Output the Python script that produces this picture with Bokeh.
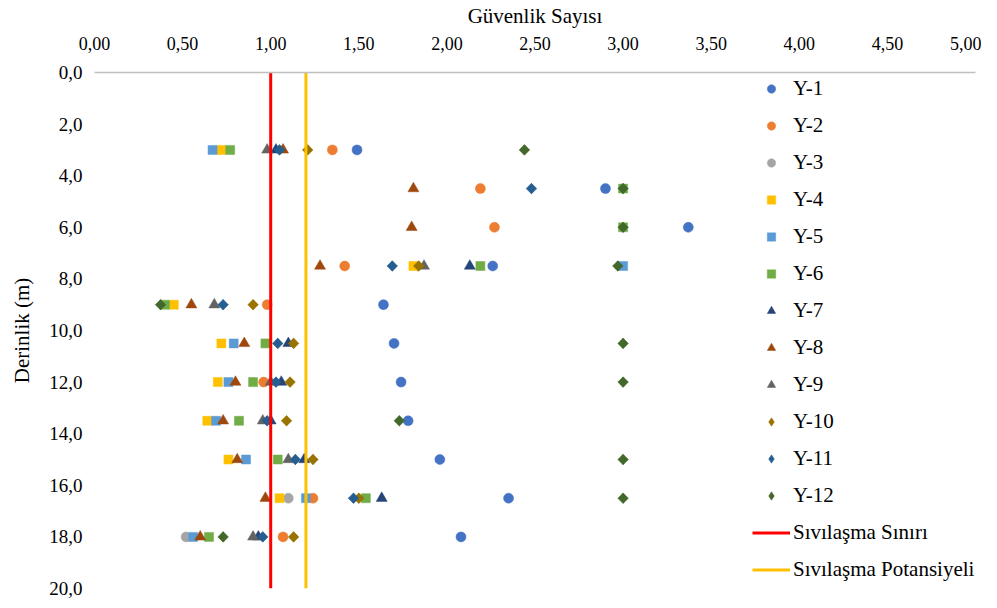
from bokeh.plotting import figure
from bokeh.models import Range1d, LinearAxis, FixedTicker, CustomJSTickFormatter, Legend, LegendItem, ColumnDataSource
from bokeh.embed import file_html
from bokeh.resources import INLINE
import math

NaN = float("nan")

depths = [3.0, 4.5, 6.0, 7.5, 9.0, 10.5, 12.0, 13.5, 15.0, 16.5, 18.0]

y1 = [1.49, 2.90, 3.37, 2.26, 1.64, 1.70, 1.74, 1.78, 1.96, 2.35, 2.08]
y2 = [1.35, 2.19, 2.27, 1.42, 0.98, NaN, 0.96, NaN, NaN, 1.24, 1.07]
y3 = [NaN, NaN, NaN, NaN, NaN, NaN, NaN, NaN, NaN, 1.10, 0.52]
y4 = [0.72, NaN, NaN, 1.81, 0.45, 0.72, 0.70, 0.64, 0.76, 1.05, NaN]
y5 = [0.67, NaN, NaN, 3.00, NaN, 0.79, 0.76, 0.69, 0.86, 1.20, 0.56]
y6 = [0.77, 3.00, 3.00, 2.19, 0.40, 0.97, 0.90, 0.82, 1.04, 1.54, 0.65]
y7 = [1.03, NaN, NaN, 2.13, NaN, 1.10, 1.06, 1.00, 1.19, 1.63, 0.93]
y8 = [1.07, 1.81, 1.80, 1.28, 0.55, 0.85, 0.80, 0.73, 0.81, 0.97, 0.60]
y9 = [0.98, NaN, NaN, 1.87, 0.68, NaN, 1.00, 0.955, 1.10, NaN, 0.90]
y10 = [1.21, NaN, NaN, 1.84, 0.90, 1.13, 1.11, 1.09, 1.24, 1.50, 1.13]
y11 = [1.05, 2.48, NaN, 1.69, 0.73, 1.04, 1.03, 0.98, 1.14, 1.47, 0.955]
y12 = [2.44, 3.00, 3.00, 2.97, 0.375, 3.00, 3.00, 1.73, 3.00, 3.00, 0.73]

series_names = ["Y-1", "Y-2", "Y-3", "Y-4", "Y-5", "Y-6", "Y-7", "Y-8", "Y-9", "Y-10", "Y-11", "Y-12"]
series_values = [y1, y2, y3, y4, y5, y6, y7, y8, y9, y10, y11, y12]
series_colors = ["#4472C4", "#ED7D31", "#A5A5A5", "#FFC000", "#5B9BD5", "#70AD47",
                 "#264478", "#9E480E", "#636363", "#997300", "#255E91", "#43682B"]
series_markers = ["circle"] * 3 + ["square"] * 3 + ["triangle"] * 3 + ["diamond"] * 3
marker_sizes = {"circle": 10, "square": 9, "triangle": 11, "diamond": 10}

limit_name = "Sıvılaşma Sınırı"
limit_value = 1.0
potential_name = "Sıvılaşma Potansiyeli"
potential_value = 1.2
depth_range = [0.0, 20.0]

x_ticks = [0.0, 0.5, 1.0, 1.5, 2.0, 2.5, 3.0, 3.5, 4.0, 4.5, 5.0]
y_ticks = [0, 2, 4, 6, 8, 10, 12, 14, 16, 18, 20]

FONT = "Liberation Serif"

p = figure(width=981, height=600, output_backend="svg", toolbar_location=None,
           x_range=Range1d(0, 5), y_range=Range1d(20, 0),
           x_axis_location=None, y_axis_location=None,
           min_border_left=94, min_border_right=6, min_border_top=72, min_border_bottom=12)
p.outline_line_color = None
p.xgrid.visible = False
p.ygrid.visible = False

xaxis = LinearAxis(axis_label="Güvenlik Sayısı")
xaxis.ticker = FixedTicker(ticks=x_ticks)
xaxis.formatter = CustomJSTickFormatter(code="return tick.toFixed(2).replace('.', ',');")
xaxis.axis_line_color = "#BFBFBF"
xaxis.axis_line_width = 1.5
xaxis.major_tick_line_color = None
xaxis.minor_tick_line_color = None
xaxis.major_label_standoff = 17
xaxis.axis_label_standoff = 6
xaxis.major_label_text_font = FONT
xaxis.major_label_text_font_size = "18px"
xaxis.major_label_text_color = "#000000"
xaxis.axis_label_text_font = FONT
xaxis.axis_label_text_font_size = "21px"
xaxis.axis_label_text_font_style = "normal"
xaxis.axis_label_text_color = "#000000"
p.add_layout(xaxis, "above")

yaxis = LinearAxis(axis_label="Derinlik (m)")
yaxis.ticker = FixedTicker(ticks=y_ticks)
yaxis.formatter = CustomJSTickFormatter(code="return tick.toFixed(1).replace('.', ',');")
yaxis.axis_line_color = None
yaxis.major_tick_line_color = None
yaxis.minor_tick_line_color = None
yaxis.major_label_standoff = 6
yaxis.axis_label_standoff = 12
yaxis.major_label_text_font = FONT
yaxis.major_label_text_font_size = "19px"
yaxis.major_label_text_color = "#000000"
yaxis.axis_label_text_font = FONT
yaxis.axis_label_text_font_size = "21px"
yaxis.axis_label_text_font_style = "normal"
yaxis.axis_label_text_color = "#000000"
p.add_layout(yaxis, "left")

items = []
for name, vals, col, mk in zip(series_names, series_values, series_colors, series_markers):
    xs = [v for v in vals if not math.isnan(v)]
    ys = [d for v, d in zip(vals, depths) if not math.isnan(v)]
    src = ColumnDataSource(dict(x=xs, y=ys))
    r = p.scatter("x", "y", source=src, marker=mk, size=marker_sizes[mk],
                  fill_color=col, line_color=col, line_width=0.5)
    if mk == "diamond":
        # wider diamond on top: a square turned by 45 degrees
        p.scatter("x", "y", source=src, marker="square", size=7.5, angle=math.pi / 4,
                  fill_color=col, line_color=col, line_width=0.5)
    items.append(LegendItem(label=name, renderers=[r]))

r_lim = p.line([limit_value, limit_value], depth_range, line_color="#FF0000", line_width=3)
items.append(LegendItem(label=limit_name, renderers=[r_lim]))
r_pot = p.line([potential_value, potential_value], depth_range, line_color="#FFC000", line_width=3)
items.append(LegendItem(label=potential_name, renderers=[r_pot]))

legend = Legend(items=items, location=(658, 6))
legend.glyph_width = 38
legend.glyph_height = 21
legend.label_height = 21
legend.spacing = 12
legend.padding = 0
legend.margin = 0
legend.label_standoff = 3
legend.label_text_font = FONT
legend.label_text_font_size = "21px"
legend.label_text_color = "#000000"
legend.border_line_alpha = 0
legend.background_fill_alpha = 0
p.add_layout(legend, "center")

open("out.html", "w").write(file_html(p, INLINE))
